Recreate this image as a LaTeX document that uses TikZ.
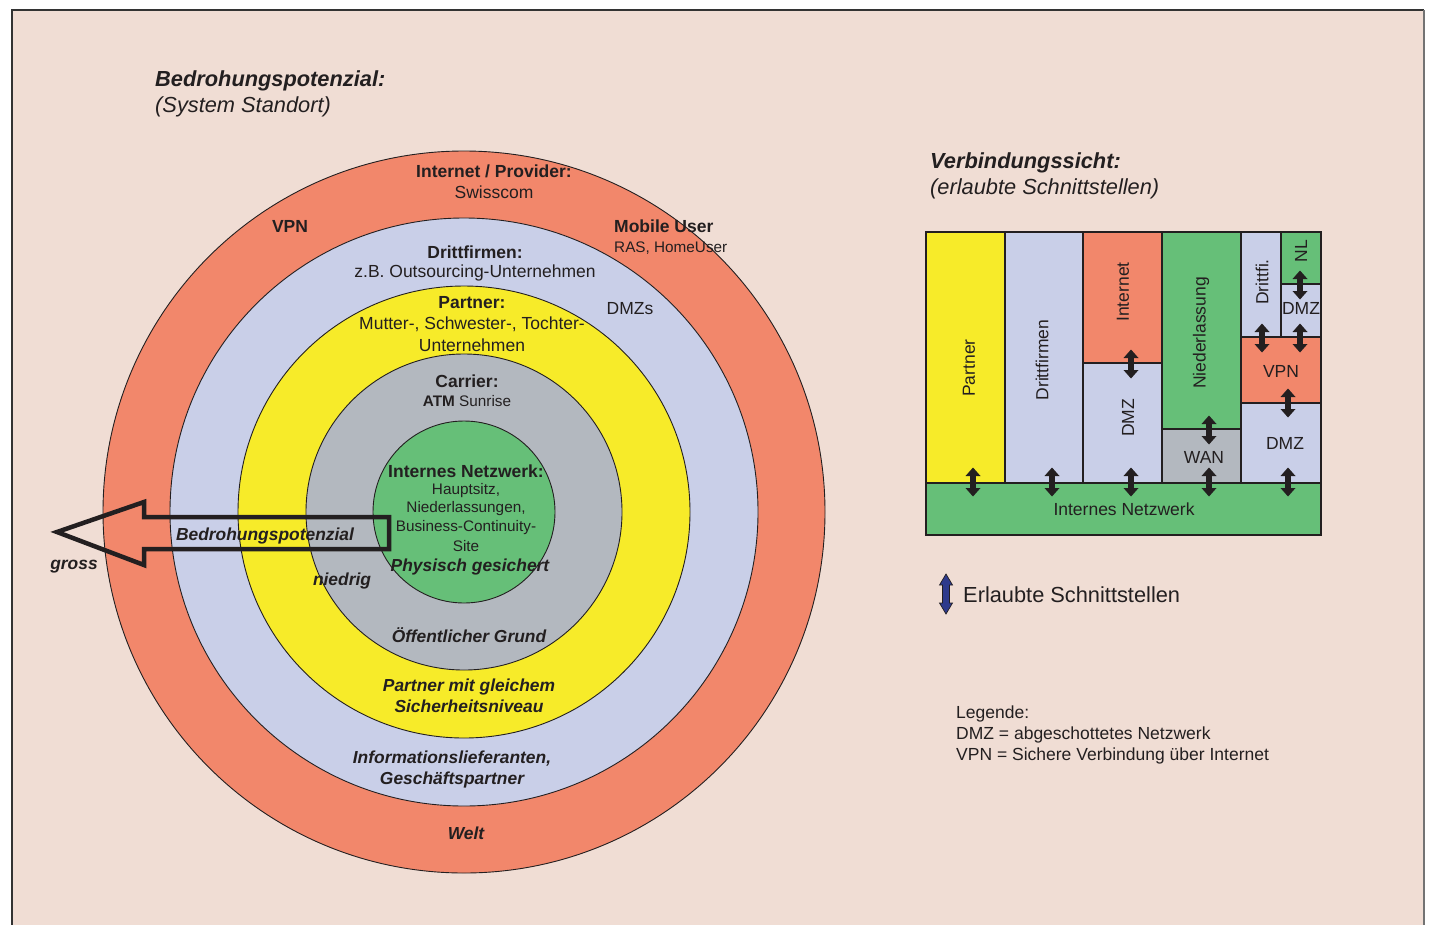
\documentclass[tikz,border=0pt]{standalone}
\usepackage{fontspec}
\setmainfont{Liberation Sans}
\definecolor{bgc}{HTML}{F0DDD4}
\definecolor{orc}{HTML}{F2876B}
\definecolor{blc}{HTML}{C9CFE8}
\definecolor{yec}{HTML}{F7EB29}
\definecolor{grc}{HTML}{B3B8BF}
\definecolor{gnc}{HTML}{66BF78}
\definecolor{txc}{HTML}{231F20}
\definecolor{arc}{HTML}{2E3A8C}
\tikzset{
  lbl/.style={inner sep=0pt, text=txc, font=\fontsize{17.5}{21}\selectfont, align=center},
  sml/.style={inner sep=0pt, text=txc, font=\fontsize{15.3}{18.5}\selectfont, align=center},
  bi/.style={inner sep=0pt, text=txc, font=\fontsize{17.4}{21}\selectfont\bfseries\itshape, align=center},
  ttl/.style={inner sep=0pt, text=txc, anchor=west, font=\fontsize{21.8}{26}\selectfont},
  boxlbl/.style={inner sep=0pt, text=txc, font=\fontsize{17.5}{20}\selectfont},
  ring/.style={draw=txc, line width=0.9pt},
  cell/.style={draw=txc, line width=2.4pt},
  pics/darr/.style={code={
    \fill[txc] (0,-14.5) -- (7.5,-6) -- (2.9,-6) -- (2.9,6) -- (7.5,6) -- (0,14.5)
      -- (-7.5,6) -- (-2.9,6) -- (-2.9,-6) -- (-7.5,-6) -- cycle;}},
}
\begin{document}
\begin{tikzpicture}[x=1pt,y=-1pt]
\useasboundingbox (0,0) rectangle (1431,924);
\fill[white] (0,0) rectangle (1431,924);
\fill[bgc] (12,10) rectangle (1424,930);
\draw[black!80, line width=1.2pt] (12,930) -- (12,10) -- (1424,10);
\draw[black!55, line width=2pt] (1424,10) -- (1424,930);

% titles
\node[ttl] (t1) at (155,81) {\bfseries\itshape Bedrohungspotenzial:};
\node[ttl] (t2) at (155,107) {\itshape (System Standort)};
\node[ttl] (t3) at (930,163) {\bfseries\itshape Verbindungssicht:};
\node[ttl] (t4) at (930,189) {\itshape (erlaubte Schnittstellen)};

% rings
\coordinate (c) at (464,512);
\fill[orc] (c) circle[radius=361];
\draw[ring] (c) circle[radius=361];
\fill[blc] (c) circle[radius=294];
\draw[ring] (c) circle[radius=294];
\fill[yec] (c) circle[radius=226];
\draw[ring] (c) circle[radius=226];
\fill[grc] (c) circle[radius=158];
\draw[ring] (c) circle[radius=158];
\fill[gnc] (c) circle[radius=91];
\draw[ring] (c) circle[radius=91];

% big outline arrow
\draw[txc, line width=4.5pt, line join=miter] (57,532) -- (144,502) -- (144,517) -- (389,517)
  -- (389,549) -- (144,549) -- (144,565) -- cycle;

% ring labels
\node[lbl] (ip1) at (494,171) {\bfseries Internet / Provider:};
\node[lbl] (ip2) at (494,192) {Swisscom};
\node[lbl] (vpn) at (290,226) {\bfseries VPN};
\node[lbl, anchor=west] (mu1) at (614,226) {\bfseries Mobile User};
\node[sml, anchor=west] (mu2) at (614,248) {RAS, HomeUser};
\node[lbl] (df1) at (475,252) {\bfseries Drittfirmen:};
\node[lbl] (df2) at (475,273) {z.B. Outsourcing-Unternehmen};
\node[lbl] (dmzs) at (630,309) {DMZs};
\node[lbl] (pa1) at (472,303) {\bfseries Partner:};
\node[lbl] (pa2) at (472,324) {Mutter-, Schwester-, Tochter-};
\node[lbl] (pa3) at (472,345) {Unternehmen};
\node[lbl] (ca1) at (467,381) {\bfseries Carrier:};
\node[sml] (ca2) at (467,401) {\bfseries ATM\mdseries\ Sunrise};
\node[lbl] (in1) at (466,471) {\bfseries Internes Netzwerk:};
\node[sml] (in2) at (466,491) {Hauptsitz,};
\node[sml] (in3) at (466,509) {Niederlassungen,};
\node[sml] (in4) at (466,528) {Business-Continuity-};
\node[sml] (in5) at (466,546) {Site};
\node[bi] (phy) at (470,567) {Physisch gesichert};
\node[bi] (oef) at (469,635) {Öffentlicher Grund};
\node[bi] (pmg) at (469,696) {Partner mit gleichem\\Sicherheitsniveau};
\node[bi] (inf) at (452,769) {Informationslieferanten,\\Geschäftspartner};
\node[bi] (welt) at (466,833) {Welt};
\node[bi] (bp) at (265,536) {Bedrohungspotenzial};
\node[bi] (gross) at (74,567) {gross};
\node[bi] (nied) at (342,581) {niedrig};

% connection view
\fill[yec] (926,232) rectangle (1005,483);
\fill[blc] (1005,232) rectangle (1083,483);
\fill[orc] (1083,232) rectangle (1162,363);
\fill[blc] (1083,363) rectangle (1162,483);
\fill[gnc] (1162,232) rectangle (1241,429);
\fill[grc] (1162,429) rectangle (1241,483);
\fill[blc] (1241,232) rectangle (1281,337);
\fill[gnc] (1281,232) rectangle (1321,284);
\fill[blc] (1281,284) rectangle (1321,337);
\fill[orc] (1241,337) rectangle (1321,403);
\fill[blc] (1241,403) rectangle (1321,483);
\fill[gnc] (926,483) rectangle (1321,535);
\draw[cell] (926,232) rectangle (1321,535);
\draw[cell] (926,483) -- (1321,483);
\draw[cell] (1005,232) -- (1005,483);
\draw[cell] (1083,232) -- (1083,483);
\draw[cell] (1162,232) -- (1162,483);
\draw[cell] (1241,232) -- (1241,483);
\draw[cell] (1281,232) -- (1281,337);
\draw[cell] (1083,363) -- (1162,363);
\draw[cell] (1162,429) -- (1241,429);
\draw[cell] (1241,337) -- (1321,337);
\draw[cell] (1281,284) -- (1321,284);
\draw[cell] (1241,403) -- (1321,403);

\node[boxlbl, rotate=90] (bPart) at (969,368) {Partner};
\node[boxlbl, rotate=90] (bDritt) at (1042,360) {Drittfirmen};
\node[boxlbl, rotate=90] (bInt) at (1123,292) {Internet};
\node[boxlbl, rotate=90] (bDMZ1) at (1128,418) {DMZ};
\node[boxlbl, rotate=90] (bNL) at (1201,333) {Niederlassung};
\node[boxlbl] (bWAN) at (1204,457) {WAN};
\node[boxlbl, rotate=90] (bDf) at (1262,282) {Drittfi.};
\node[boxlbl, rotate=90] (bNL2) at (1301,251) {NL};
\node[boxlbl] (bDMZ2) at (1301,308) {DMZ};
\node[boxlbl] (bVPN) at (1281,371) {VPN};
\node[boxlbl] (bDMZ3) at (1285,443) {DMZ};
\node[boxlbl] (bInn) at (1124,509) {Internes Netzwerk};

% allowed interfaces
\pic at (973,482) {darr};
\pic at (1052,482) {darr};
\pic at (1131,482) {darr};
\pic at (1209,482) {darr};
\pic at (1288,482) {darr};
\pic at (1131,364) {darr};
\pic at (1209,430) {darr};
\pic at (1262,338) {darr};
\pic at (1300,338) {darr};
\pic at (1300,285) {darr};
\pic at (1288,403) {darr};

% legend
\draw[txc, fill=arc, line width=0.7pt] (946,574) -- (952.5,585) -- (949.5,585) -- (949.5,603) -- (952.5,603)
  -- (946,614) -- (939.5,603) -- (942.5,603) -- (942.5,585) -- (939.5,585) -- cycle;
\node[ttl] (leg) at (963,595) {Erlaubte Schnittstellen};
\node[lbl, anchor=west] (l1) at (956,714) {Legende:};
\node[lbl, anchor=west] (l2) at (956,735) {DMZ = abgeschottetes Netzwerk};
\node[lbl, anchor=west] (l3) at (956,756) {VPN = Sichere Verbindung über Internet};
\end{tikzpicture}
\end{document}
